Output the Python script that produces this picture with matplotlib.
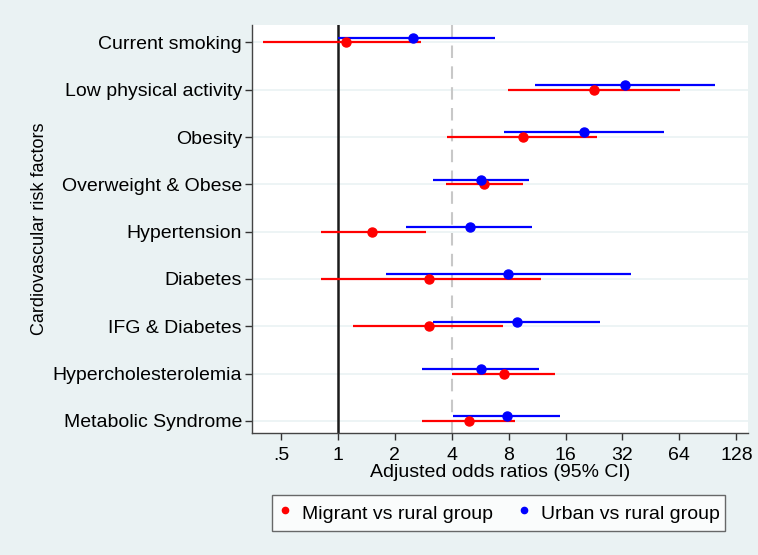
import matplotlib
matplotlib.use("Agg")
import matplotlib.pyplot as plt
from matplotlib.lines import Line2D
import numpy as np

plt.rcParams['font.family'] = ['Liberation Sans', 'DejaVu Sans']

factors = ["Current smoking", "Low physical activity", "Obesity",
           "Overweight & Obese", "Hypertension", "Diabetes",
           "IFG & Diabetes", "Hypercholesterolemia", "Metabolic Syndrome"]

# Migrant vs rural: odds ratio, lower and upper 95% CI
migrant_or = [1.11, 22.5, 9.5, 5.94, 1.52, 3.02, 3.02, 7.52, 4.91]
migrant_lo = [0.40, 7.9, 3.79, 3.71, 0.81, 0.81, 1.20, 4.02, 2.80]
migrant_hi = [2.74, 64.2, 23.5, 9.5, 2.92, 11.9, 7.49, 14.0, 8.64]

# Urban vs rural: odds ratio, lower and upper 95% CI
urban_or = [2.51, 32.8, 20.0, 5.7, 4.97, 7.93, 8.89, 5.7, 7.86]
urban_lo = [1.00, 10.97, 7.6, 3.2, 2.29, 1.80, 3.2, 2.8, 4.07]
urban_hi = [6.77, 99.0, 53.0, 10.3, 10.67, 35.6, 24.3, 11.6, 15.0]

xticks = [0.5, 1, 2, 4, 8, 16, 32, 64, 128]
xtick_labels = [".5", "1", "2", "4", "8", "16", "32", "64", "128"]

bg = "#EAF2F3"
fs = 14
fig = plt.figure(figsize=(7.58, 5.55), dpi=100, facecolor=bg)
ax = fig.add_axes([0.332, 0.2204, 0.6544, 0.7346])
ax.set_facecolor("white")

n = len(factors)
y = np.arange(n)
offset = 0.1

ax.set_xscale("log", base=2)
ax.set_xlim(0.35, 147)
ax.set_ylim(n - 1 + 0.25, -0.37)

# horizontal grid lines at each factor
for yi in y:
    ax.axhline(yi, color=bg, lw=1.2, zorder=0)

ax.axvline(1, color="#1a1a1a", lw=1.8, zorder=1)
ax.axvline(4, color="#c8c8c8", lw=1.5, ls=(0, (6, 4)), zorder=1)

red = "#FF0000"
blue = "#0000FF"
ax.hlines(y, migrant_lo, migrant_hi, color=red, lw=1.6, zorder=2)
ax.plot(migrant_or, y, "o", color=red, ms=6.5, zorder=3)
ax.hlines(y - offset, urban_lo, urban_hi, color=blue, lw=1.6, zorder=2)
ax.plot(urban_or, y - offset, "o", color=blue, ms=6.5, zorder=3)

ax.set_xticks(xticks)
ax.set_xticklabels(xtick_labels)
ax.xaxis.set_minor_locator(matplotlib.ticker.NullLocator())
ax.set_yticks(y)
ax.set_yticklabels(factors)

ax.tick_params(axis="both", direction="out", length=5, width=1,
               color="#333333", labelsize=fs, labelcolor="black")
ax.tick_params(axis="x", pad=5)
ax.tick_params(axis="y", pad=2)

for s in ["top", "right"]:
    ax.spines[s].set_visible(False)
for s in ["left", "bottom"]:
    ax.spines[s].set_color("#444444")
    ax.spines[s].set_linewidth(1.0)

ax.set_xlabel("Adjusted odds ratios (95% CI)", fontsize=fs, labelpad=0)
ax.set_ylabel("Cardiovascular risk factors", fontsize=13, labelpad=3)

handles = [Line2D([], [], marker="o", ls="", color=red, ms=4.5),
           Line2D([], [], marker="o", ls="", color=blue, ms=4.5)]
leg = fig.legend(handles, ["Migrant vs rural group", "Urban vs rural group"],
                 loc="center", bbox_to_anchor=(0.6577, 0.0757), ncol=2,
                 fontsize=fs, frameon=True, fancybox=False,
                 edgecolor="#444444", handletextpad=0.45, columnspacing=1.2,
                 borderpad=0.3, handlelength=0.8, handleheight=1.5)
leg.get_frame().set_linewidth(1.0)

fig.savefig("out.png", dpi=100, facecolor=bg)
